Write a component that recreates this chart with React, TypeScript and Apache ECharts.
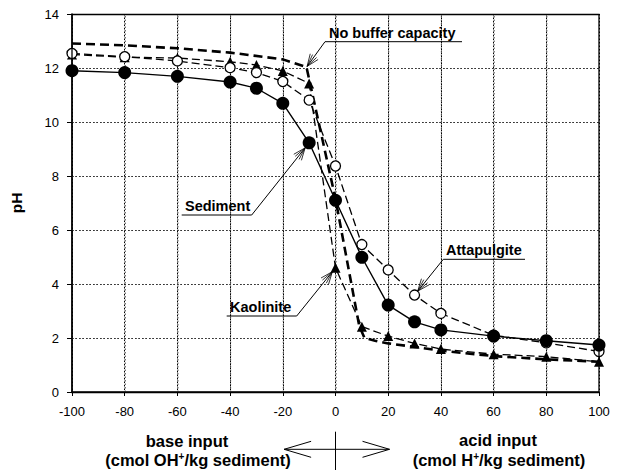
import React, { useEffect, useRef } from "react";
import * as echarts from "echarts";

const xValues = [-100, -80, -60, -40, -30, -20, -10, 0, 10, 20, 30, 40, 60, 80, 100];
const sedimentPH = [11.9, 11.83, 11.69, 11.48, 11.25, 10.69, 9.23, 7.1, 4.99, 3.22, 2.6, 2.3, 2.07, 1.9, 1.74];
const attapulgitePH = [12.54, 12.42, 12.26, 12.01, 11.83, 11.5, 10.81, 8.37, 5.46, 4.52, 3.59, 2.91, 2.1, 1.82, 1.5];
const kaolinitePH = [12.5, 12.4, 12.37, 12.23, 12.11, 11.89, 11.43, 4.6, 2.42, 2.07, 1.8, 1.59, 1.4, 1.31, 1.12];
const noBufferX = [-100, -80, -60, -40, -20, -11, 0, 9, 11, 15, 20, 30, 40, 60, 80, 100];
const noBufferPH = [12.91, 12.84, 12.73, 12.57, 12.32, 12.03, 7.15, 2.45, 2.0, 1.9, 1.8, 1.67, 1.53, 1.33, 1.21, 1.12];
const xGridValues = [-80, -60, -40, -20, 0, 20, 40, 60, 80];
const yGridValues = [2, 4, 6, 8, 10, 12];
const xMin = -100, xMax = 100, xInterval = 20;
const yMin = 0, yMax = 14, yInterval = 2;

const FONT = "Liberation Sans, Arial, sans-serif";

const zip = (xs: number[], ys: number[]) => xs.map((x, i) => [x, ys[i]]);

export default function App() {
  const ref = useRef<HTMLDivElement>(null);
  useEffect(() => {
    if (!ref.current) return;
    const chart = echarts.init(ref.current, null, { renderer: "svg" });
    chart.setOption({
      animation: false,
      grid: { left: 72, right: 21, top: 14, bottom: 80 },
      xAxis: {
        type: "value",
        min: xMin,
        max: xMax,
        interval: xInterval,
        axisLine: { show: true, onZero: false, lineStyle: { color: "#000000", width: 1.5 } },
        axisTick: { show: true, length: 4, lineStyle: { color: "#000000", width: 1 } },
        axisLabel: { fontFamily: FONT, fontSize: 13, color: "#000000", margin: 13 },
        splitLine: { show: true, lineStyle: { color: "#000000", width: 1, type: [1.5, 2] } },
      },
      yAxis: {
        type: "value",
        min: yMin,
        max: yMax,
        interval: yInterval,
        axisLine: { show: true, onZero: false, lineStyle: { color: "#000000", width: 1.5 } },
        axisTick: { show: true, length: 5, lineStyle: { color: "#000000", width: 1 } },
        axisLabel: { fontFamily: FONT, fontSize: 13, color: "#000000", margin: 13 },
        splitLine: { show: true, lineStyle: { color: "#000000", width: 1, type: [1.5, 2] } },
        name: "pH",
        nameLocation: "middle",
        nameGap: 48,
        nameRotate: 90,
        nameTextStyle: { fontFamily: FONT, fontSize: 15.5, fontWeight: "bold", color: "#000000" },
      },
      series: [
        {
          name: "No buffer capacity",
          type: "line",
          data: zip(noBufferX, noBufferPH),
          showSymbol: false,
          symbol: "none",
          lineStyle: { color: "#000", width: 2.6, type: [9, 5] },
          z: 2,
        },
        {
          name: "Kaolinite",
          type: "line",
          data: zip(xValues, kaolinitePH),
          symbol: "triangle",
          symbolSize: 10,
          itemStyle: { color: "#000" },
          lineStyle: { color: "#000", width: 1.3, type: [8, 4] },
          z: 3,
        },
        {
          name: "Attapulgite",
          type: "line",
          data: zip(xValues, attapulgitePH),
          symbol: "circle",
          symbolSize: 10,
          itemStyle: { color: "#fff", borderColor: "#000", borderWidth: 1.3 },
          lineStyle: { color: "#000", width: 1.3, type: [8, 4] },
          z: 4,
        },
        {
          name: "Sediment",
          type: "line",
          data: zip(xValues, sedimentPH),
          symbol: "circle",
          symbolSize: 13,
          itemStyle: { color: "#000" },
          lineStyle: { color: "#000", width: 1.4, type: "solid" },
          z: 5,
        },
      ],
    });

    const px = (x: number, y: number) => chart.convertToPixel({ gridIndex: 0 }, [x, y]) as number[];
    const els: any[] = [];
    const line = (x1: number, y1: number, x2: number, y2: number, w = 1, z = 100) =>
      els.push({ type: "line", shape: { x1, y1, x2, y2 }, style: { stroke: "#000", lineWidth: w }, z });
    const dotted = (x1: number, y1: number, x2: number, y2: number) =>
      els.push({ type: "line", shape: { x1, y1, x2, y2 }, style: { stroke: "#333", lineWidth: 1, lineDash: [1.5, 2] }, z: 1 });

    const tl = px(xMin, yMax);
    const br = px(xMax, yMin);
    xGridValues.forEach((v) => {
      const a = px(v, yMin), b = px(v, yMax);
      dotted(a[0] + 0.5, a[1], b[0] + 0.5, b[1]);
    });
    yGridValues.forEach((v) => {
      const a = px(xMin, v), b = px(xMax, v);
      dotted(a[0], a[1] + 0.5, b[0], b[1] + 0.5);
    });
    els.push({
      type: "rect",
      shape: { x: tl[0], y: tl[1] + 0.5, width: br[0] - tl[0], height: br[1] - tl[1] },
      style: { fill: null, stroke: "#000", lineWidth: 1.3 },
      z: 90,
    });

    const leader = (sx: number, sy: number, target: number[], r: number) => {
      const dx = sx - target[0];
      const dy = sy - target[1];
      const len = Math.hypot(dx, dy);
      const ux = dx / len, uy = dy / len;
      const tx = target[0] + ux * r, ty = target[1] + uy * r;
      line(sx, sy, tx, ty, 1);
      [-22, -11, 11, 22].forEach((deg) => {
        const a = (deg * Math.PI) / 180;
        const wx = ux * Math.cos(a) - uy * Math.sin(a);
        const wy = ux * Math.sin(a) + uy * Math.cos(a);
        line(tx, ty, tx + wx * 13, ty + wy * 13, 0.8);
      });
    };
    const label = (text: string, x: number, y: number, ux1: number, ux2: number, uy: number) => {
      els.push({
        type: "text",
        style: { text, x, y, fontFamily: FONT, fontSize: 14.5, fontWeight: "bold", fill: "#000", align: "left", verticalAlign: "middle" },
        z: 100,
      });
      line(ux1, uy, ux2, uy, 1);
    };

    label("No buffer capacity", 329, 33, 325, 462, 41.7);
    leader(325, 41.7, px(-11, 12.03), 1);
    label("Sediment", 185, 206, 181.7, 251.7, 215);
    leader(251.7, 215, px(-10, 9.23), 6.5);
    label("Kaolinite", 230, 307, 226.7, 296.7, 316);
    leader(296.7, 316, px(0, 4.6), 5);
    label("Attapulgite", 446, 250, 443.3, 525, 259.3);
    leader(443.3, 259.3, px(30, 3.59), 5);

    const bottomText = (t: string, x: number, y: number) =>
      els.push({
        type: "text",
        style: {
          text: t,
          x,
          y,
          fontFamily: FONT,
          fontSize: 16.5,
          fontWeight: "bold",
          fill: "#000",
          align: "center",
          verticalAlign: "middle",
          lineHeight: 17,
          rich: { s: { fontFamily: FONT, fontSize: 10, fontWeight: "bold", fill: "#000", verticalAlign: "top", lineHeight: 17 } },
        },
        z: 100,
      });
    bottomText("base input", 187, 441);
    bottomText("(cmol OH{s|+}/kg sediment)", 198, 460);
    bottomText("acid input", 498, 440);
    bottomText("(cmol H{s|+}/kg sediment)", 499, 460);

    const cx = px(0, 0)[0];
    const lx = px(-19.5, 0)[0];
    const rx = px(20.5, 0)[0];
    const ay = 449.3;
    line(lx, ay, rx, ay, 1);
    line(cx, 431.7, cx, 470, 1);
    line(lx, ay, lx + 27, ay - 8, 1);
    line(lx, ay, lx + 27, ay + 8, 1);
    line(rx, ay, rx - 27, ay - 8, 1);
    line(rx, ay, rx - 27, ay + 8, 1);

    chart.setOption({ graphic: { elements: els } });
    return () => chart.dispose();
  }, []);
  return <div ref={ref} style={{ width: 620, height: 472, position: "absolute", left: 0, top: 0 }} />;
}
